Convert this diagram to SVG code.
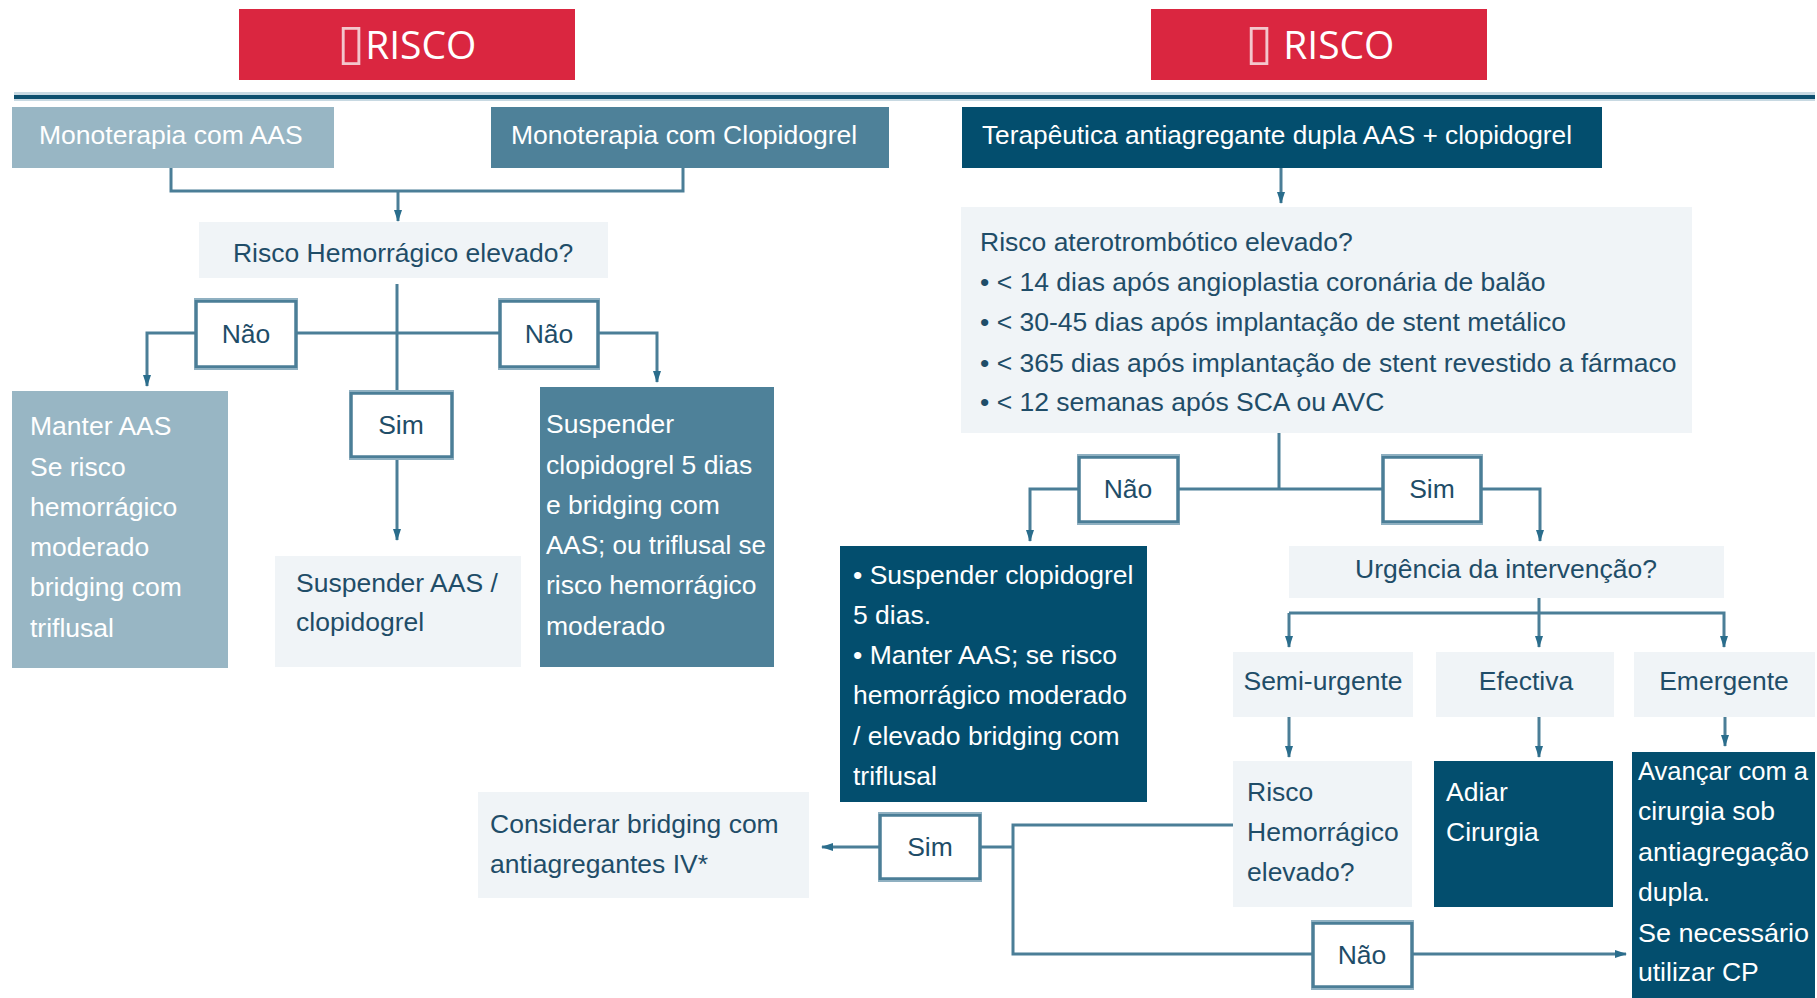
<svg xmlns="http://www.w3.org/2000/svg" width="1817" height="998" viewBox="0 0 1817 998">
<style>
  text { font-family: "Liberation Sans", Arial, sans-serif; font-size: 26.5px; }
  .title { font-family: "Open Sans", "Noto Sans", "DejaVu Sans", sans-serif; font-size: 39px; fill: #ffffff; text-anchor: middle; }
  .tofu { font-family: "DejaVu Sans", sans-serif; font-size: 50px; fill: #f3c6cc; }
  .red { fill: #da2640; }
  .light { fill: #98b6c4; }
  .mid { fill: #4e8199; }
  .dark { fill: #034e6e; }
  .pale { fill: #f0f4f7; }
  .w { fill: #ffffff; }
  .d { fill: #1f4d68; }
  .c { text-anchor: middle; }
  .lbl { fill: #ffffff; stroke: #4b7e97; stroke-width: 3.5; }
  .bar { fill: #8fb0c1; }
  .conn { fill: none; stroke: #4b7e97; stroke-width: 3; }
  .arr { fill: none; stroke: #4b7e97; stroke-width: 3; marker-end: url(#ah); }
</style>
<defs>
  <marker id="ah" viewBox="0 0 12 8" refX="11" refY="4" markerWidth="12" markerHeight="8" orient="auto" markerUnits="userSpaceOnUse">
    <path d="M0,0 L12,4 L0,8 z" fill="#2a6d8c"/>
  </marker>
</defs>

<g id="header-left">
  <rect class="red" x="239" y="9" width="336" height="71"/>
  <text class="title" x="407" y="59"><tspan class="tofu">▯</tspan>RISCO</text>
</g>
<g id="header-right">
  <rect class="red" x="1151" y="9" width="336" height="71"/>
  <text class="title" x="1320" y="59"><tspan class="tofu">▯</tspan> RISCO</text>
</g>
<g id="divider">
  <rect x="14" y="92" width="1801" height="9" fill="#c8d9e2"/>
  <rect x="14" y="95" width="1801" height="4" fill="#0d4f6e"/>
</g>

<g id="connectors">
  <path class="conn" d="M171,168 V191 H683 V168"/>
  <path class="arr" d="M398,191 V221"/>
  <path class="conn" d="M397,284 V393"/>
  <path class="arr" d="M196,333 H147 V386"/>
  <path class="conn" d="M296,333 H500"/>
  <path class="arr" d="M598,333 H657 V382"/>
  <path class="arr" d="M397,457 V540"/>
  <path class="arr" d="M1281,168 V203"/>
  <path class="conn" d="M1279,433 V489"/>
  <path class="arr" d="M1079,489 H1030 V541"/>
  <path class="conn" d="M1178,489 H1383"/>
  <path class="arr" d="M1481,489 H1540 V541"/>
  <path class="conn" d="M1539,598 V613"/>
  <path class="arr" d="M1289,613 H1724 V647"/>
  <path class="arr" d="M1289,613 V647"/>
  <path class="arr" d="M1539,613 V647"/>
  <path class="arr" d="M1289,717 V757"/>
  <path class="arr" d="M1539,717 V757"/>
  <path class="arr" d="M1725,717 V746"/>
  <path class="conn" d="M1233,825 H1013 V954 H1313"/>
  <path class="arr" d="M1412,954 H1626"/>
  <path class="conn" d="M1013,847 H980"/>
  <path class="arr" d="M880,847 H822"/>
</g>

<g id="mono-aas">
  <rect class="light" x="12" y="107" width="322" height="61"/>
  <text class="w" x="39" y="144">Monoterapia com AAS</text>
</g>
<g id="mono-clop">
  <rect class="mid" x="491" y="107" width="398" height="61"/>
  <text class="w" x="511" y="144">Monoterapia com Clopidogrel</text>
</g>
<g id="dupla">
  <rect class="dark" x="962" y="107" width="640" height="61"/>
  <text class="w" x="982" y="144" textLength="590" lengthAdjust="spacingAndGlyphs">Terapêutica antiagregante dupla AAS + clopidogrel</text>
</g>

<g id="risco-hem-left">
  <rect class="pale" x="199" y="222" width="409" height="56"/>
  <text class="d c" x="403" y="262">Risco Hemorrágico elevado?</text>
</g>
<g id="lbl-nao-1">
  <rect class="lbl" x="196" y="301" width="100" height="66"/>
  <rect class="bar" x="194" y="298" width="104" height="2"/>
  <rect class="bar" x="194" y="368" width="104" height="2"/>
  <text class="d c" x="246" y="343">Não</text>
</g>
<g id="lbl-nao-2">
  <rect class="lbl" x="500" y="301" width="98" height="66"/>
  <rect class="bar" x="498" y="298" width="102" height="2"/>
  <rect class="bar" x="498" y="368" width="102" height="2"/>
  <text class="d c" x="549" y="343">Não</text>
</g>
<g id="lbl-sim-1">
  <rect class="lbl" x="351" y="393" width="101" height="64"/>
  <rect class="bar" x="349" y="390" width="105" height="2"/>
  <rect class="bar" x="349" y="458" width="105" height="2"/>
  <text class="d c" x="401" y="434">Sim</text>
</g>

<g id="manter-aas">
  <rect class="light" x="12" y="391" width="216" height="277"/>
  <text class="w" x="30" y="435">Manter AAS</text>
  <text class="w" x="30" y="476">Se risco</text>
  <text class="w" x="30" y="516">hemorrágico</text>
  <text class="w" x="30" y="556">moderado</text>
  <text class="w" x="30" y="596">bridging com</text>
  <text class="w" x="30" y="637">triflusal</text>
</g>
<g id="suspender-aas">
  <rect class="pale" x="275" y="556" width="246" height="111"/>
  <text class="d" x="296" y="592">Suspender AAS /</text>
  <text class="d" x="296" y="631">clopidogrel</text>
</g>
<g id="suspender-clop">
  <rect class="mid" x="540" y="387" width="234" height="280"/>
  <text class="w" x="546" y="433">Suspender</text>
  <text class="w" x="546" y="474">clopidogrel 5 dias</text>
  <text class="w" x="546" y="514">e bridging com</text>
  <text class="w" x="546" y="554" textLength="220" lengthAdjust="spacingAndGlyphs">AAS; ou triflusal se</text>
  <text class="w" x="546" y="594">risco hemorrágico</text>
  <text class="w" x="546" y="635">moderado</text>
</g>

<g id="risco-atero">
  <rect class="pale" x="961" y="207" width="731" height="226"/>
  <text class="d" x="980" y="251">Risco aterotrombótico elevado?</text>
  <text class="d" x="980" y="291">• &lt; 14 dias após angioplastia coronária de balão</text>
  <text class="d" x="980" y="331">• &lt; 30-45 dias após implantação de stent metálico</text>
  <text class="d" x="980" y="372">• &lt; 365 dias após implantação de stent revestido a fármaco</text>
  <text class="d" x="980" y="411">• &lt; 12 semanas após SCA ou AVC</text>
</g>
<g id="lbl-nao-3">
  <rect class="lbl" x="1079" y="457" width="99" height="65"/>
  <rect class="bar" x="1077" y="454" width="103" height="2"/>
  <rect class="bar" x="1077" y="523" width="103" height="2"/>
  <text class="d c" x="1128" y="498">Não</text>
</g>
<g id="lbl-sim-2">
  <rect class="lbl" x="1383" y="457" width="98" height="65"/>
  <rect class="bar" x="1381" y="454" width="102" height="2"/>
  <rect class="bar" x="1381" y="523" width="102" height="2"/>
  <text class="d c" x="1432" y="498">Sim</text>
</g>

<g id="suspender-clop-right">
  <rect class="dark" x="840" y="546" width="307" height="256"/>
  <text class="w" x="853" y="584">• Suspender clopidogrel</text>
  <text class="w" x="853" y="624">5 dias.</text>
  <text class="w" x="853" y="664">• Manter AAS; se risco</text>
  <text class="w" x="853" y="704">hemorrágico moderado</text>
  <text class="w" x="853" y="745">/ elevado bridging com</text>
  <text class="w" x="853" y="785">triflusal</text>
</g>
<g id="urgencia">
  <rect class="pale" x="1289" y="546" width="435" height="52"/>
  <text class="d c" x="1506" y="578">Urgência da intervenção?</text>
</g>
<g id="semi-urgente">
  <rect class="pale" x="1233" y="652" width="180" height="65"/>
  <text class="d c" x="1323" y="690">Semi-urgente</text>
</g>
<g id="efectiva">
  <rect class="pale" x="1436" y="652" width="178" height="65"/>
  <text class="d c" x="1526" y="690">Efectiva</text>
</g>
<g id="emergente">
  <rect class="pale" x="1634" y="652" width="181" height="65"/>
  <text class="d c" x="1724" y="690">Emergente</text>
</g>
<g id="risco-hem-right">
  <rect class="pale" x="1233" y="761" width="179" height="146"/>
  <text class="d" x="1247" y="801">Risco</text>
  <text class="d" x="1247" y="841">Hemorrágico</text>
  <text class="d" x="1247" y="881">elevado?</text>
</g>
<g id="adiar">
  <rect class="dark" x="1434" y="761" width="179" height="146"/>
  <text class="w" x="1446" y="801">Adiar</text>
  <text class="w" x="1446" y="841">Cirurgia</text>
</g>
<g id="avancar">
  <rect class="dark" x="1632" y="752" width="183" height="246"/>
  <text class="w" x="1638" y="780" textLength="170" lengthAdjust="spacingAndGlyphs">Avançar com a</text>
  <text class="w" x="1638" y="820">cirurgia sob</text>
  <text class="w" x="1638" y="861" textLength="171" lengthAdjust="spacingAndGlyphs">antiagregação</text>
  <text class="w" x="1638" y="901">dupla.</text>
  <text class="w" x="1638" y="942" textLength="171" lengthAdjust="spacingAndGlyphs">Se necessário</text>
  <text class="w" x="1638" y="981">utilizar CP</text>
</g>
<g id="considerar">
  <rect class="pale" x="478" y="792" width="331" height="106"/>
  <text class="d" x="490" y="833">Considerar bridging com</text>
  <text class="d" x="490" y="873">antiagregantes IV*</text>
</g>
<g id="lbl-sim-3">
  <rect class="lbl" x="880" y="815" width="100" height="64"/>
  <rect class="bar" x="878" y="812" width="104" height="2"/>
  <rect class="bar" x="878" y="880" width="104" height="2"/>
  <text class="d c" x="930" y="856">Sim</text>
</g>
<g id="lbl-nao-4">
  <rect class="lbl" x="1313" y="923" width="99" height="64"/>
  <rect class="bar" x="1311" y="920" width="103" height="2"/>
  <rect class="bar" x="1311" y="988" width="103" height="2"/>
  <text class="d c" x="1362" y="964">Não</text>
</g>
</svg>
